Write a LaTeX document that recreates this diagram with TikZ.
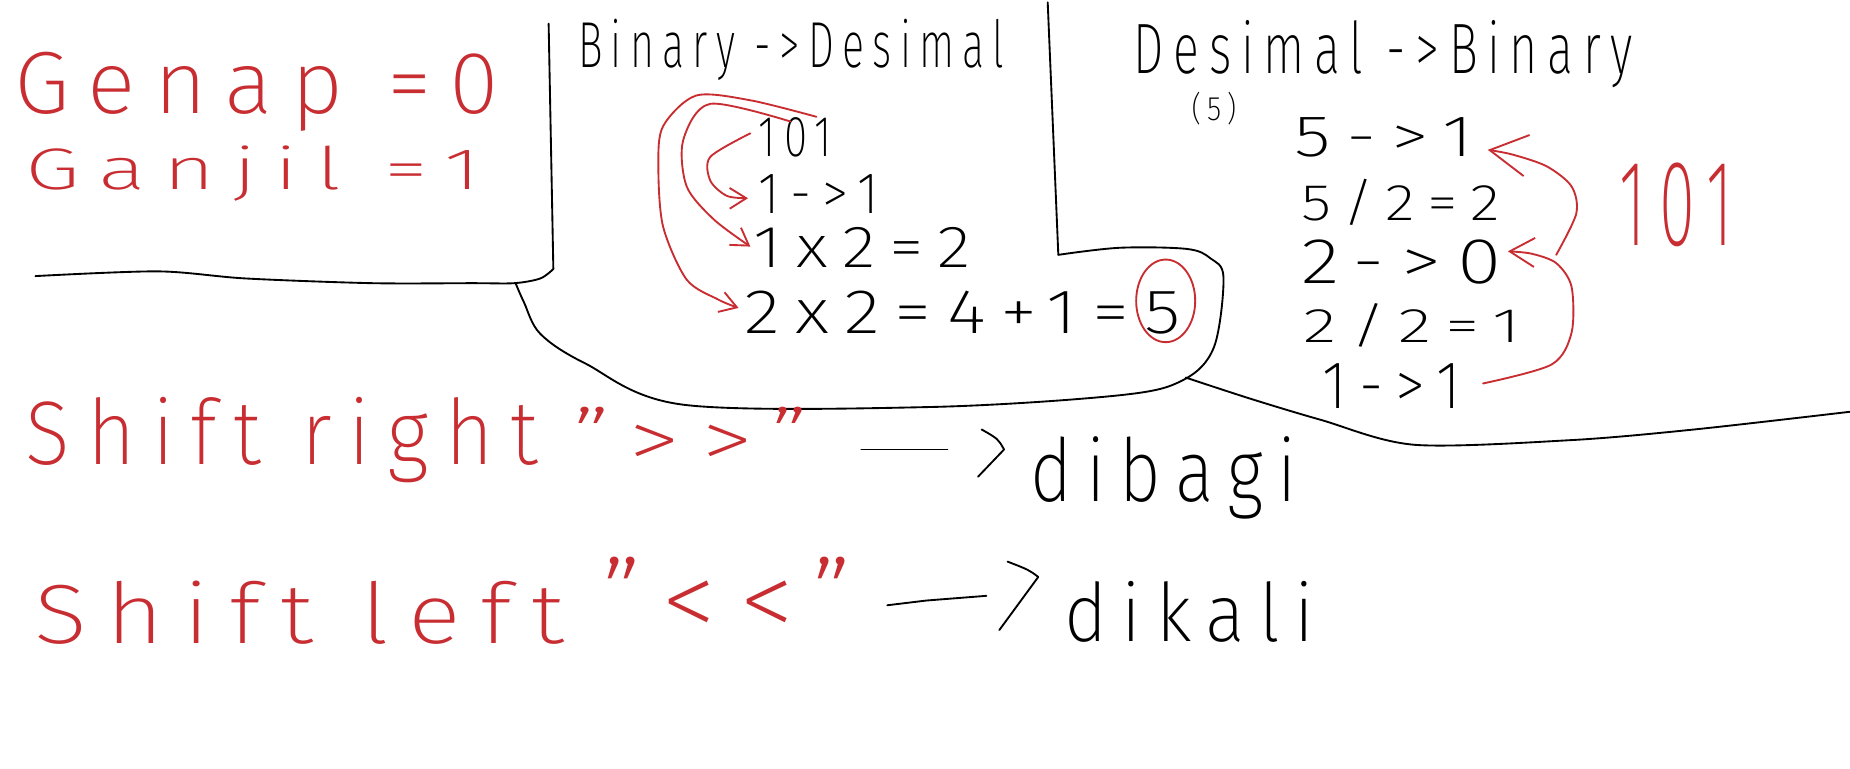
\documentclass[tikz,border=0pt]{standalone}
\usepackage{fontspec}
\setmainfont{Fira Sans}[UprightFont=* ExtraLight, LetterSpace=20]
\usetikzlibrary{arrows.meta}
\newdimen\upx \upx=0.01cm
\newcommand\hw[3]{\resizebox{#1\upx}{#2\upx}{#3}}
\definecolor{pen}{RGB}{200,45,50}
\begin{document}
\begin{tikzpicture}[x=0.01cm,y=-0.01cm,line cap=round,line join=round,
  ink/.style={draw=black,line width=0.45pt},
  redink/.style={draw=pen,line width=0.45pt},
  txt/.style={anchor=base west,inner sep=0pt,outer sep=0pt},
  rtxt/.style={txt,text=pen},
  smalltip/.style={-{Straight Barb[length=4pt,width=5pt]}},
  bigtip/.style={-{Straight Barb[length=9pt,width=10pt]}},
  midtip/.style={-{Straight Barb[length=6pt,width=7pt]}}]
\useasboundingbox (0,0) rectangle (1568,651);
\fill[white] (0,0) rectangle (1568,651);

% ---- left box texts (red)
\node[rtxt] (genap)  at (12,96)  {\hw{411}{52}{Genap =0}};
\node[rtxt] (ganjil) at (22,161) {\hw{385}{37}{Ganjil =1}};

% ---- left box border
\draw[ink] plot[smooth,tension=0.5] coordinates {(30,234) (134,230) (208,236) (315,240) (400,240) (436,240) (458,236) (469,228)} -- (465,20);

% ---- middle box
\node[txt] (bindes) at (490,57)  {\hw{361}{41}{Binary ->Desimal}};
\node[txt] (b101)   at (643,133) {\hw{62}{33}{101}};
\node[txt] (b1to1)  at (643,181) {\hw{102}{33}{1->1}};
\node[txt] (b1x2)   at (639,227) {\hw{184}{34}{1x2=2}};
\node[txt] (b2x2)   at (631,283) {\hw{370}{36}{2x2=4+1=5}};
\draw[redink] (988,255) ellipse [x radius=0.25cm,y radius=0.35cm];

\draw[ink] plot[smooth,tension=0.55] coordinates {(437,240) (444,256) (458,283) (496,308) (579,343) (787,345) (949,335) (1003,322) (1029,294) (1037,235) (1026,219) (1006,211) (949,210) (897,216)} -- (888,2);

% red arrows (middle)
\draw[redink,smalltip] plot[smooth] coordinates {(636,113) (602,133) (602,153) (616,166) (634,168)};
\draw[redink,smalltip] plot[smooth] coordinates {(670,103) (602,88) (579,119) (582,158) (605,186) (636,209)};
\draw[redink,smalltip] plot[smooth] coordinates {(692,99) (636,85) (590,81) (562,107) (558,141) (562,192) (582,237) (609,254) (626,261)};

% ---- right box
\node[txt] (desbin) at (961,62)   {\hw{423}{45}{Desimal ->Binary}};
\node[txt] (five)   at (1010,102) {\hw{38}{24}{(5)}};
\node[txt] (r1) at (1097,133) {\hw{152}{33}{5->1}};
\node[txt] (r2) at (1103,187) {\hw{168}{35}{5/2=2}};
\node[txt] (r3) at (1103,240) {\hw{170}{37}{2->0}};
\node[txt] (r4) at (1105,290) {\hw{184}{33}{2/2=1}};
\node[txt] (r5) at (1121,346) {\hw{117}{38}{1->1}};
\node[rtxt] (red101) at (1373,208) {\hw{96}{70}{101}};

\draw[redink,bigtip] plot[smooth] coordinates {(1319,216) (1336,181) (1332,158) (1311,141) (1282,131) (1261,127)};
\draw[redink,midtip] plot[smooth] coordinates {(1257,325) (1315,309) (1332,282) (1332,243) (1319,223) (1298,215) (1278,213)};

\draw[ink] plot[smooth,tension=0.5] coordinates {(1005,320) (1060,338) (1120,356) (1199,377) (1332,373) (1436,364) (1568,349)};

% ---- bottom texts
\node[rtxt] (shr) at (22,394) {\hw{434}{57}{Shift right}};
\node[rtxt] (qr)  at (486,397) {\hw{200}{52}{''\,>{}>\,''}};
\draw[ink] (730,381) -- (803,381);
\draw[ink] (832,364) .. controls (846,372) .. (851,381) -- (829,404);
\node[txt] (dibagi) at (873,425) {\hw{226}{55}{dibagi}};

\node[rtxt] (shl) at (29,545) {\hw{449}{53}{Shift left}};
\node[rtxt] (ql)  at (511,541) {\hw{212}{69}{''\,<{}<\,''}};
\draw[ink] (752,513) -- (785,509) -- (836,505);
\draw[ink] (854,476) .. controls (872,483) .. (880,489) -- (847,534);
\node[txt] (dikali) at (902,544) {\hw{212}{51}{dikali}};
\end{tikzpicture}
\end{document}
